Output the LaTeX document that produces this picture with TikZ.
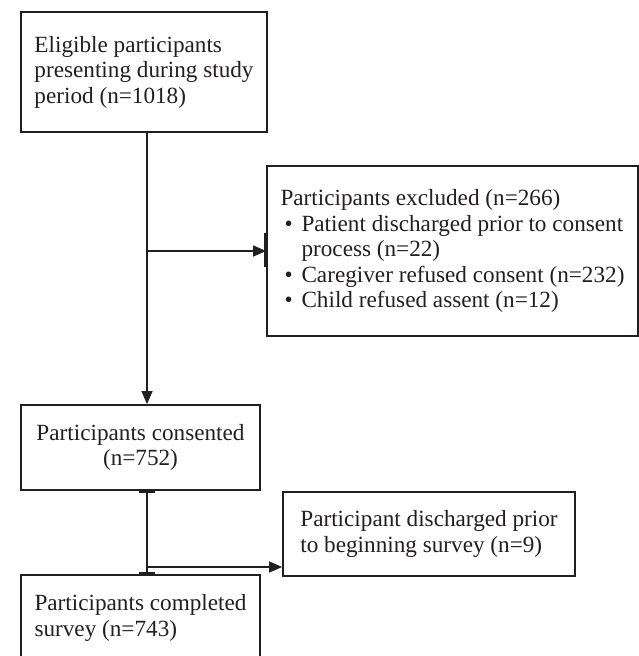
\documentclass[tikz,border=0pt]{standalone}
\usepackage{fontspec}
\setmainfont{Liberation Serif}
\usetikzlibrary{arrows.meta}
\definecolor{ink}{HTML}{231F20}
\newcommand\bitem[1]{\hspace*{4pt}\makebox[17pt][l]{\textbullet}#1}
\begin{document}
\begin{tikzpicture}[x=1pt,y=-1pt,
  box/.style={draw=ink,line width=1.8pt,rectangle,inner sep=0pt,align=left,
    font=\fontsize{23.2}{25.5}\selectfont,text=ink},
  conn/.style={draw=ink,line width=1.3pt},
  arr/.style={conn,-{Triangle[length=13pt,width=11pt]}}]
\useasboundingbox (0,0) rectangle (639,656);
\clip (0,0) rectangle (639,656);
\fill[white] (0,0) rectangle (639,656);

\node[box,minimum width=246,minimum height=120] (b1) at (144,72)
  {Eligible participants\\presenting during study\\period (n=1018)};
\node[box,minimum width=371,minimum height=170] (excl) at (452.5,251)
  {Participants excluded (n=266)\\
   \bitem{Patient discharged prior to consent}\\
   \hspace*{21pt}process (n=22)\\
   \bitem{Caregiver refused consent (n=232)}\\
   \bitem{Child refused assent (n=12)}};
\node[box,align=center,minimum width=239,minimum height=85] (b2) at (140.5,447.5)
  {Participants consented\\(n=752)};
\node[box,minimum width=292,minimum height=84] (disch) at (429,534)
  {Participant discharged prior\\to beginning survey (n=9)};
\node[box,minimum width=239,minimum height=86] (b3) at (140.5,618)
  {Participants completed\\survey (n=743)};

\coordinate (spine) at (147,0);
\coordinate (br1) at (147,251);
\coordinate (br2) at (147,567);

\draw[arr] (b1.south -| spine) -- (b2.north -| spine);
\draw[arr] (br1) -- (excl.west |- br1);
\draw[ink,line width=4pt] ([yshift=-16pt]excl.west) -- ([yshift=18pt]excl.west);

\draw[ink,line width=2.4pt] (b2.south -| spine) -- (b3.north -| spine);
\draw[ink,line width=3.5pt] ([xshift=-8pt]b2.south -| spine) -- ([xshift=8pt]b2.south -| spine);
\draw[ink,line width=3.5pt] ([xshift=-8pt]b3.north -| spine) -- ([xshift=8pt]b3.north -| spine);
\draw[arr] (br2) -- (disch.west |- br2);
\end{tikzpicture}
\end{document}
